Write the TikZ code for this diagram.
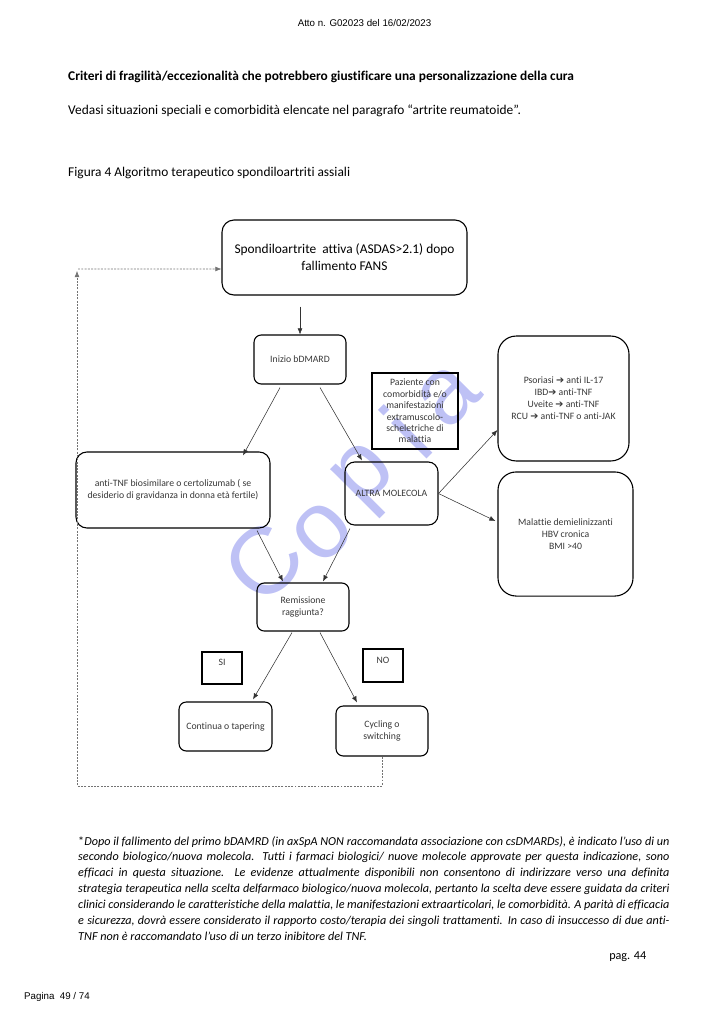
\documentclass[tikz,border=0pt]{standalone}
\usepackage{fontspec}
\setmainfont{Carlito}[Ligatures=NoCommon]
\newfontfamily\arialfont{Liberation Sans}
\newfontfamily\symfont{DejaVu Sans}
\usetikzlibrary{arrows.meta,calc}
\definecolor{copiablue}{RGB}{190,193,245}
\definecolor{boxtext}{RGB}{55,55,55}
\newcommand{\arrowsym}{{\symfont\fontsize{8}{9}\selectfont ➔}}

\begin{document}
\begin{tikzpicture}[x=0.822pt,y=-0.822pt]
\tikzset{flowbox/.style = {draw, rounded corners=6pt, line width=0.9pt, align=center, inner sep=0pt, text=boxtext, font=\fontsize{8}{9.8}\selectfont},
  notebox/.style = {flowbox, rounded corners=0pt},
  link/.style = {-{Latex[length=5pt,width=4pt]}, line width=0.45pt, black!80},
  backloop/.style = {dash pattern=on 1.6pt off 1.1pt, line width=0.5pt, black!55},
  watermark/.style = {text=copiablue, font=\arialfont\fontsize{78}{78}\selectfont, rotate=45, inner sep=0pt},
  pagetext/.style = {inner sep=0pt, font=\fontsize{11}{13}\selectfont}}
\useasboundingbox (0,0) rectangle (724,1024);

% watermark
\node[watermark] (wmC) at (264,562) {C};
\node[watermark] (wmO) at (322,532) {o};
\node[watermark] (wmP) at (369,480) {p};
\node[watermark] (wmI) at (406,432) {i};
\node[watermark] (wmA) at (448,396) {a};

% page text
\node[inner sep=0pt, font=\arialfont\fontsize{8}{9.6}\selectfont] (atto) at (364.5,23) {Atto n. G02023 del 16/02/2023};
\node[pagetext, anchor=west, font=\bfseries\fontsize{11}{13}\selectfont] (titolo) at (68,77) {Criteri di fragilità/eccezionalità che potrebbero giustificare una personalizzazione della cura};
\node[pagetext, anchor=west] (vedasi) at (68,111) {Vedasi situazioni speciali e comorbidità elencate nel paragrafo “artrite reumatoide”.};
\node[pagetext, anchor=west] (figura) at (68,173) {Figura 4 Algoritmo terapeutico spondiloartriti assiali};

% algorithm
\node[flowbox, rounded corners=10pt, minimum width=201.4pt, minimum height=61.7pt, text=black, font=\fontsize{11}{14}\selectfont] (start) at (344.5,257.5) {Spondiloartrite\ \ attiva (ASDAS>2.1) dopo\\fallimento FANS};
\node[flowbox, minimum width=75.6pt, minimum height=40.3pt] (inizio) at (300,359.5) {Inizio bDMARD};
\node[notebox, minimum width=70.7pt, minimum height=62.5pt, font=\fontsize{8}{9.4}\selectfont] (paziente) at (415,411) {Paziente con\\comorbidità e/o\\manifestazioni\\extramuscolo-\\scheletriche di\\malattia};
\node[flowbox, rounded corners=9pt, minimum width=159.5pt, minimum height=62.5pt] (antitnf) at (173,490) {anti-TNF biosimilare o certolizumab ( se\\desiderio di gravidanza in donna età fertile)};
\node[flowbox, rounded corners=8pt, minimum width=76.4pt, minimum height=51.8pt] (altra) at (391.5,493.5) {ALTRA MOLECOLA};
\node[flowbox, rounded corners=15pt, minimum width=107.7pt, minimum height=102.7pt] (psor) at (563.5,398.5) {Psoriasi \arrowsym{} anti IL-17\\IBD\arrowsym{} anti-TNF\\Uveite \arrowsym{} anti-TNF\\RCU \arrowsym{} anti-TNF o anti-JAK};
\node[flowbox, rounded corners=15pt, minimum width=111pt, minimum height=102pt] (demiel) at (565.5,534) {Malattie demielinizzanti\\HBV cronica\\BMI >40};
\node[flowbox, minimum width=75.6pt, minimum height=39.5pt] (remiss) at (303,607) {Remissione\\raggiunta?};
\node[notebox, minimum width=32.9pt, minimum height=26.3pt, text height=5pt, text depth=8.5pt] (si) at (222,668) {SI};
\node[notebox, minimum width=32.9pt, minimum height=27.1pt, text height=5pt, text depth=8.5pt] (no) at (383,665.5) {NO};
\node[flowbox, minimum width=76.4pt, minimum height=40.3pt] (continua) at (225.5,726.5) {Continua o tapering};
\node[flowbox, minimum width=75.6pt, minimum height=41.1pt] (cycling) at (382,731) {Cycling o\\switching};

\draw[link] ($(start.south)+(-44.5,11)$) -- (inizio.north);
\draw[link] ($(inizio.south)+(-20,3)$) -- ($(antitnf.north)+(70,4)$);
\draw[link] ($(inizio.south)+(20,3)$) -- ($(altra.north)+(-29.5,-1)$);
\draw[link] (altra.east) -- ($(psor.west)+(0,31.5)$);
\draw[link] (altra.east) -- ($(demiel.west)+(-2,-13)$);
\draw[link] ($(antitnf.south)+(84,2)$) -- ($(remiss.north)+(-20,-1)$);
\draw[link] ($(altra.south)+(-41.5,3)$) -- ($(remiss.north)+(20,-1)$);
\draw[link] ($(remiss.south)+(-11,1)$) -- ($(continua.north)+(27.5,-2)$);
\draw[link] ($(remiss.south)+(17,1)$) -- ($(cycling.north)+(-25,-3)$);

% back to the start
\coordinate (loopturn) at (77,786);
\coordinate (loopup) at (77,271);
\draw[backloop, -{Latex[length=5pt,width=4pt]}] (cycling.south) |- (loopturn) -- (loopup);
\draw[backloop, -{Latex[length=5pt,width=4pt]}] ($(loopup)+(1,-2)$) -- ($(start.west)+(0,11.5)$);

% note
\node[pagetext, anchor=north west, text width=486pt, align=justify, font=\itshape\fontsize{10}{13}\selectfont] (nota) at (78,836) {{\upshape *}Dopo il fallimento del primo bDAMRD (in axSpA NON raccomandata associazione con csDMARDs), è indicato l’uso di un\linebreak
secondo biologico/nuova molecola. Tutti i farmaci biologici/ nuove molecole approvate per questa indicazione, sono\linebreak
efficaci in questa situazione.\ \ Le evidenze attualmente disponibili non consentono di indirizzare verso una definita\linebreak
strategia terapeutica nella scelta delfarmaco biologico/nuova molecola, pertanto la scelta deve essere guidata da criteri\linebreak
clinici considerando le caratteristiche della malattia, le manifestazioni extraarticolari, le comorbidità. A parità di efficacia\linebreak
e sicurezza, dovrà essere considerato il rapporto costo/terapia dei singoli trattamenti. In caso di insuccesso di due anti-\linebreak
TNF non è raccomandato l’uso di un terzo inibitore del TNF.};
\node[pagetext, anchor=west, font=\fontsize{10}{12}\selectfont] (pag) at (609,957) {pag. 44};
\node[inner sep=0pt, anchor=west, font=\arialfont\fontsize{8}{9.6}\selectfont] (pagina) at (24,997) {Pagina\ \ 49 / 74};
\end{tikzpicture}
\end{document}
